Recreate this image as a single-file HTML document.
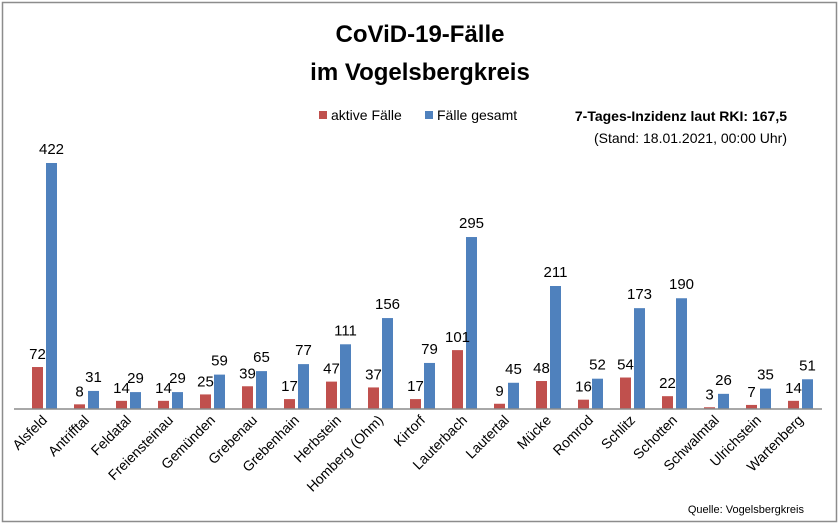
<!DOCTYPE html>
<html><head><meta charset="utf-8"><style>
body{margin:0;background:#fff}
svg{display:block;font-family:"Liberation Sans",sans-serif}
</style></head><body>
<svg width="840" height="525" xmlns="http://www.w3.org/2000/svg">
<rect x="0" y="0" width="840" height="525" fill="#fff"/>
<rect x="2.5" y="2.5" width="834" height="519" fill="none" stroke="#8c8c8c" stroke-width="1.5"/>
<text x="420" y="42" text-anchor="middle" font-size="24" font-weight="bold">CoViD-19-Fälle</text>
<text x="420" y="80" text-anchor="middle" font-size="24" font-weight="bold">im Vogelsbergkreis</text>
<rect x="319" y="111" width="8" height="8" fill="#c0504d"/>
<text x="331" y="120" font-size="14">aktive Fälle</text>
<rect x="425" y="111" width="8" height="8" fill="#4f81bd"/>
<text x="437" y="120" font-size="14">Fälle gesamt</text>
<text x="787" y="121" text-anchor="end" font-size="14" font-weight="bold">7-Tages-Inzidenz laut RKI: 167,5</text>
<text x="787" y="143" text-anchor="end" font-size="14">(Stand: 18.01.2021, 00:00 Uhr)</text>
<text x="804" y="513" text-anchor="end" font-size="11">Quelle: Vogelsbergkreis</text>
<g id="bars"></g>
<line x1="14" y1="409" x2="822" y2="409" stroke="#8c8c8c" stroke-width="1.5"/>
</svg>
<script>
const d=[["Alsfeld",72,422],["Antrifftal",8,31],["Feldatal",14,29],["Freiensteinau",14,29],["Gemünden",25,59],["Grebenau",39,65],["Grebenhain",17,77],["Herbstein",47,111],["Homberg (Ohm)",37,156],["Kirtorf",17,79],["Lauterbach",101,295],["Lautertal",9,45],["Mücke",48,211],["Romrod",16,52],["Schlitz",54,173],["Schotten",22,190],["Schwalmtal",3,26],["Ulrichstein",7,35],["Wartenberg",14,51]];
const g=document.getElementById('bars');const k=246/422;let s='';
d.forEach((r,i)=>{const x=32+42*i;const h1=r[1]*k,h2=r[2]*k;
s+=`<rect x="${x}" y="${409-h1}" width="11" height="${h1}" fill="#c0504d"/>`;
s+=`<rect x="${x+14}" y="${409-h2}" width="11" height="${h2}" fill="#4f81bd"/>`;
s+=`<text x="${x+5.5}" y="${409-h1-8}" text-anchor="middle" font-size="15">${r[1]}</text>`;
s+=`<text x="${x+19.5}" y="${409-h2-9}" text-anchor="middle" font-size="15">${r[2]}</text>`;
s+=`<text transform="translate(${x+16},${421}) rotate(-45)" text-anchor="end" font-size="14">${r[0]}</text>`;});
g.innerHTML=s;
</script>
</body></html>
